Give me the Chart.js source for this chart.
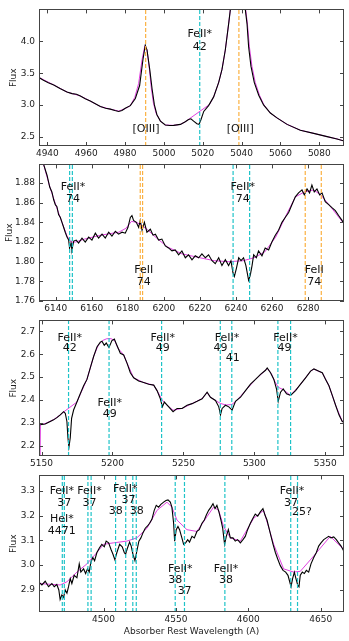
<!DOCTYPE html>
<html>
<head>
<meta charset="utf-8">
<script src="https://cdn.jsdelivr.net/npm/chart.js@4.4.1/dist/chart.umd.min.js"></script>
<style>
  body { margin: 0; background: #fff; }
  #wrap { position: relative; width: 349px; height: 641px; overflow: hidden; background: #fff; }
  canvas { position: absolute; left: 0; }
</style>
</head>
<body>
<div id="wrap">
  <canvas id="panel1" width="349" height="162" style="top:0px"></canvas>
  <canvas id="panel2" width="349" height="162" style="top:155px"></canvas>
  <canvas id="panel3" width="349" height="161" style="top:311px"></canvas>
  <canvas id="panel4" width="349" height="175" style="top:466px"></canvas>
</div>
<script>
// ---- panel 1 : [OIII] region ----
var lam1 = [4935.7, 4938.0, 4940.5, 4943.3, 4946.5, 4950.1, 4952.7, 4955.0, 4957.0, 4959.5,
  4962.1, 4964.7, 4967.3, 4970.0, 4972.4, 4974.8, 4976.7, 4978.4, 4980.1, 4982.7,
  4985.3, 4987.5, 4989.2, 4990.4, 4991.3, 4992.7, 4993.9, 4995.1, 4996.4, 4998.2,
  5000.7, 5003.0, 5005.0, 5008.5, 5011.0, 5012.7, 5013.9, 5015.3, 5017.0, 5018.1,
  5019.1, 5020.5, 5023.0, 5025.6, 5028.2, 5029.9, 5031.6, 5033.3, 5034.2, 5035.8,
  5038.4, 5040.6, 5041.9, 5042.8, 5043.6, 5044.8, 5046.5, 5048.8, 5051.3, 5054.8,
  5058.2, 5063.4, 5070.2, 5077.1, 5084.0, 5089.1, 5092.9];
var flux1 = [3.432, 3.39, 3.35, 3.316, 3.26, 3.204, 3.179, 3.17, 3.143, 3.10,
  3.062, 3.02, 2.976, 2.95, 2.936, 2.915, 2.900, 2.915, 2.951, 2.991,
  3.103, 3.306, 3.711, 3.939, 3.863, 3.559, 3.255, 3.002, 2.849, 2.748,
  2.687, 2.68, 2.682, 2.697, 2.738, 2.773, 2.784, 2.748, 2.708, 2.697,
  2.773, 2.900, 2.991, 3.128, 3.356, 3.559, 3.863, 4.269, 4.497, 5.2,
  6.0, 5.2, 4.497, 4.269, 3.914, 3.610, 3.356, 3.154, 3.002, 2.875,
  2.799, 2.697, 2.606, 2.556, 2.505, 2.469, 2.434];
var fitLam1 = [4935.7, 4943.3, 4950.1, 4957.0, 4962.1, 4967.3, 4972.4, 4976.7, 4980.1, 4982.7,
  4985.0, 4987.0, 4988.8, 4990.2, 4991.3, 4992.5, 4993.5, 4994.6, 4996.0, 4998.2,
  5000.7, 5005.0, 5008.5, 5011.0, 5012.7, 5023.5, 5025.6, 5028.2, 5029.9, 5031.6,
  5033.3, 5034.2, 5035.8, 5038.4, 5040.6, 5042.1, 5043.0, 5044.0, 5045.3, 5047.0,
  5049.2, 5051.5, 5054.8, 5058.2, 5063.4, 5070.2, 5077.1, 5084.0, 5089.1, 5092.9];
var fitFlux1 = [3.432, 3.316, 3.204, 3.143, 3.062, 2.976, 2.936, 2.905, 2.945, 2.990,
  3.120, 3.340, 3.720, 3.930, 3.870, 3.570, 3.270, 3.030, 2.870, 2.750,
  2.687, 2.682, 2.697, 2.738, 2.776, 3.010, 3.128, 3.356, 3.559, 3.863,
  4.269, 4.497, 5.200, 6.000, 5.200, 4.497, 4.269, 3.914, 3.610, 3.356,
  3.154, 3.002, 2.875, 2.799, 2.697, 2.606, 2.556, 2.505, 2.469, 2.434];
var cyan1 = [5018.44];
var orange1 = [4990.6, 5038.6];
var xRange1 = [4935.7, 5092.7];
var yRange1 = [2.358, 4.50];
var xTicks1 = [4940, 4960, 4980, 5000, 5020, 5040, 5060, 5080];
var yTicks1 = ["2.5", "3.0", "3.5", "4.0"];
var notes1 = [["FeII*", 5018.4, 4.117], ["42", 5018.4, 3.914],
  ["[OIII]", 4990.8, 2.621], ["[OIII]", 5039.3, 2.621]];

// ---- panel 2 : FeII 74 ----
var lam2 = [6131.5, 6133.3, 6135.2, 6136.7, 6137.9, 6138.9, 6139.8, 6140.7, 6141.6, 6142.6,
  6143.5, 6144.4, 6145.3, 6146.3, 6147.2, 6147.7, 6148.5, 6149.0, 6150.0, 6151.4,
  6152.7, 6154.6, 6156.4, 6158.3, 6160.1, 6162.0, 6163.8, 6165.7, 6167.5, 6169.4,
  6171.2, 6173.1, 6174.9, 6176.8, 6178.6, 6180.1, 6181.4, 6182.3, 6183.2, 6184.7,
  6186.0, 6186.9, 6187.9, 6189.2, 6190.6, 6192.5, 6194.0, 6195.3, 6197.1, 6198.9,
  6200.8, 6202.6, 6204.5, 6206.3, 6208.2, 6210.0, 6211.9, 6213.7, 6215.6, 6217.4,
  6219.3, 6221.1, 6223.0, 6224.8, 6226.7, 6228.5, 6230.4, 6232.2, 6234.1, 6235.9,
  6237.2, 6238.3, 6239.1, 6240.2, 6241.5, 6242.8, 6244.2, 6245.5, 6247.0, 6247.9,
  6248.9, 6249.8, 6251.3, 6252.5, 6254.4, 6256.2, 6258.1, 6259.9, 6261.8, 6263.6,
  6265.5, 6267.3, 6269.2, 6271.0, 6272.9, 6274.7, 6276.6, 6277.9, 6279.4, 6280.8,
  6282.1, 6283.4, 6284.9, 6286.4, 6287.7, 6289.5, 6291.4, 6293.2, 6295.1, 6296.9,
  6298.8, 6300.1];
var flux2 = [1.910, 1.899, 1.888, 1.876, 1.871, 1.863, 1.858, 1.856, 1.848, 1.845,
  1.840, 1.835, 1.830, 1.825, 1.822, 1.814, 1.819, 1.812, 1.821, 1.822,
  1.819, 1.824, 1.820, 1.825, 1.822, 1.829, 1.824, 1.828, 1.824, 1.830,
  1.826, 1.831, 1.828, 1.830, 1.829, 1.835, 1.845, 1.847, 1.842, 1.840,
  1.835, 1.842, 1.832, 1.840, 1.830, 1.833, 1.827, 1.828, 1.822, 1.823,
  1.816, 1.814, 1.811, 1.812, 1.807, 1.811, 1.804, 1.807, 1.802, 1.806,
  1.804, 1.808, 1.804, 1.807, 1.801, 1.798, 1.804, 1.796, 1.802, 1.796,
  1.801, 1.789, 1.785, 1.793, 1.804, 1.801, 1.804, 1.796, 1.781, 1.786,
  1.796, 1.807, 1.804, 1.811, 1.806, 1.814, 1.812, 1.820, 1.827, 1.832,
  1.840, 1.845, 1.850, 1.858, 1.866, 1.870, 1.873, 1.868, 1.874, 1.870,
  1.878, 1.871, 1.874, 1.868, 1.870, 1.861, 1.858, 1.855, 1.852, 1.847,
  1.842, 1.838];
var fitLam2 = [6131.5, 6133.3, 6136.6, 6140.0, 6143.5, 6146.3, 6148.5, 6151.0, 6156.0, 6165.0,
  6175.0, 6179.0, 6182.0, 6185.0, 6190.0, 6196.0, 6202.0, 6210.0, 6220.0, 6228.0,
  6236.0, 6244.0, 6250.0, 6256.0, 6262.0, 6268.0, 6273.0, 6278.0, 6283.0, 6287.0,
  6292.0, 6300.1];
var fitFlux2 = [1.910, 1.899, 1.877, 1.858, 1.840, 1.826, 1.820, 1.820, 1.823, 1.827,
  1.830, 1.834, 1.841, 1.840, 1.834, 1.824, 1.815, 1.808, 1.804, 1.801,
  1.800, 1.801, 1.804, 1.810, 1.825, 1.848, 1.866, 1.871, 1.873, 1.868,
  1.857, 1.838];
var cyan2 = [6147.74, 6149.25, 6238.39, 6247.56];
var orange2 = [6186.9, 6188.2, 6278.4, 6287.3];
var xRange2 = [6130.75, 6299.9];
var yRange2 = [1.760, 1.899];
var xTicks2 = [6140, 6160, 6180, 6200, 6220, 6240, 6260, 6280];
var yTicks2 = ["1.76", "1.78", "1.80", "1.82", "1.84", "1.86", "1.88"];
var notes2 = [["FeII*", 6149.6, 1.8761], ["74", 6149.6, 1.8636],
  ["FeII", 6188.8, 1.7917], ["74", 6188.8, 1.7796],
  ["FeII*", 6243.8, 1.8761], ["74", 6243.8, 1.8636],
  ["FeII", 6283.4, 1.7917], ["74", 6283.4, 1.7796]];

// ---- panel 3 : FeII 42 / 49 / 41 ----
var lam3 = [5149.06, 5152.59, 5156.12, 5158.47, 5160.82, 5163.18, 5165.53, 5166.71, 5167.88, 5168.59,
  5169.29, 5170.24, 5171.18, 5172.59, 5174.94, 5177.29, 5179.65, 5182.0, 5184.35, 5186.71,
  5189.06, 5191.41, 5192.6, 5194.2, 5195.6, 5197.5, 5199.6, 5201.3, 5203.1, 5205.53,
  5207.88, 5210.24, 5212.59, 5214.94, 5218.47, 5222.0, 5225.53, 5229.06, 5231.41, 5233.76,
  5235.18, 5236.59, 5239.65, 5242.71, 5245.53, 5249.06, 5252.59, 5256.12, 5259.65, 5263.18,
  5266.71, 5269.06, 5272.59, 5274.94, 5276.12, 5277.29, 5279.65, 5282.0, 5284.35, 5286.71,
  5290.24, 5293.76, 5297.29, 5300.82, 5304.35, 5307.88, 5309.06, 5311.41, 5313.76, 5315.65,
  5316.82, 5318.47, 5320.35, 5322.71, 5325.53, 5329.06, 5332.59, 5336.12, 5339.65, 5342.0,
  5345.53, 5347.88, 5350.24, 5352.59, 5354.94, 5357.29, 5359.65, 5362.0, 5363.6];
var flux3 = [2.292, 2.295, 2.306, 2.313, 2.323, 2.335, 2.349, 2.342, 2.306, 2.235,
  2.193, 2.235, 2.320, 2.356, 2.391, 2.427, 2.462, 2.490, 2.540, 2.590,
  2.632, 2.653, 2.657, 2.639, 2.649, 2.629, 2.660, 2.666, 2.639, 2.604,
  2.597, 2.561, 2.519, 2.497, 2.483, 2.476, 2.469, 2.465, 2.441, 2.405,
  2.370, 2.391, 2.370, 2.349, 2.363, 2.363, 2.377, 2.384, 2.394, 2.405,
  2.434, 2.412, 2.398, 2.370, 2.335, 2.363, 2.377, 2.370, 2.356, 2.394,
  2.412, 2.441, 2.469, 2.490, 2.512, 2.530, 2.540, 2.519, 2.490, 2.448,
  2.394, 2.434, 2.448, 2.427, 2.420, 2.441, 2.469, 2.497, 2.526, 2.536,
  2.526, 2.519, 2.490, 2.462, 2.420, 2.377, 2.335, 2.306, 2.302];
var fitLam3 = [5148.9, 5149.2, 5152.6, 5158.5, 5163.2, 5166.5, 5170.0, 5174.9, 5177.3, 5182.0,
  5186.7, 5190.0, 5193.0, 5196.0, 5199.0, 5201.5, 5204.0, 5207.9, 5210.2, 5214.9,
  5222.0, 5229.0, 5232.0, 5235.0, 5238.0, 5242.7, 5249.0, 5256.0, 5263.0, 5266.7,
  5269.0, 5272.6, 5276.0, 5280.0, 5284.0, 5287.0, 5293.8, 5300.8, 5307.9, 5309.1,
  5312.0, 5314.5, 5317.0, 5320.4, 5325.5, 5332.6, 5339.6, 5342.0, 5348.0, 5352.6,
  5357.3, 5362.0, 5363.6];
var fitFlux3 = [2.100, 2.292, 2.297, 2.314, 2.335, 2.352, 2.368, 2.391, 2.425, 2.490,
  2.590, 2.640, 2.660, 2.668, 2.668, 2.660, 2.625, 2.598, 2.562, 2.497,
  2.476, 2.465, 2.435, 2.400, 2.380, 2.355, 2.363, 2.384, 2.405, 2.432,
  2.412, 2.398, 2.385, 2.378, 2.380, 2.394, 2.441, 2.490, 2.530, 2.538,
  2.515, 2.480, 2.455, 2.445, 2.420, 2.469, 2.526, 2.535, 2.518, 2.462,
  2.377, 2.306, 2.300];
var cyan3 = [5169.03, 5197.58, 5234.63, 5276.0, 5284.1, 5316.6, 5325.55];
var orange3 = [];
var xRange3 = [5148.2, 5363.2];
var yRange3 = [2.155, 2.748];
var xTicks3 = [5150, 5200, 5250, 5300, 5350];
var yTicks3 = ["2.2", "2.3", "2.4", "2.5", "2.6", "2.7"];
var notes3 = [["FeII*", 5169.8, 2.672], ["42", 5169.8, 2.625],
  ["FeII*", 5198.0, 2.388], ["49", 5198.0, 2.337],
  ["FeII*", 5235.4, 2.672], ["49", 5235.4, 2.625],
  ["FeII*", 5280.8, 2.672], ["49", 5276.1, 2.625], ["41", 5284.8, 2.585],
  ["FeII*", 5322.0, 2.672], ["49", 5321.3, 2.625]];

// ---- panel 4 : FeII 37 / 38, HeI* ----
var lam4 = [4455.1, 4457.4, 4459.7, 4462.0, 4464.3, 4465.9, 4467.7, 4469.1, 4470.0, 4471.2,
  4472.4, 4473.5, 4474.7, 4475.8, 4477.0, 4478.1, 4479.7, 4481.6, 4483.2, 4484.3,
  4486.2, 4487.6, 4488.9, 4490.1, 4491.2, 4492.6, 4493.8, 4495.4, 4497.2, 4498.8,
  4500.5, 4501.8, 4503.5, 4505.1, 4506.5, 4507.8, 4509.2, 4511.1, 4512.9, 4514.3,
  4515.2, 4516.4, 4518.0, 4519.1, 4520.3, 4521.7, 4523.0, 4524.4, 4525.8, 4527.2,
  4528.8, 4530.4, 4531.8, 4533.4, 4535.0, 4536.4, 4538.0, 4539.6, 4541.5, 4543.1,
  4544.5, 4546.1, 4547.2, 4548.4, 4549.1, 4550.2, 4551.4, 4552.5, 4554.1, 4555.3,
  4556.7, 4558.1, 4559.4, 4561.1, 4562.7, 4564.5, 4566.1, 4568.0, 4569.6, 4571.0,
  4572.6, 4574.2, 4575.6, 4577.0, 4578.3, 4579.7, 4581.1, 4582.3, 4583.6, 4584.8,
  4586.2, 4587.6, 4589.4, 4591.0, 4592.6, 4594.5, 4596.3, 4597.9, 4599.5, 4601.4,
  4603.2, 4604.8, 4606.5, 4608.3, 4610.1, 4611.5, 4612.9, 4614.3, 4615.7, 4617.1,
  4618.7, 4620.3, 4622.1, 4624.0, 4625.8, 4627.4, 4628.6, 4629.5, 4630.6, 4631.8,
  4632.9, 4634.1, 4635.0, 4635.9, 4637.3, 4638.7, 4640.1, 4641.7, 4643.3, 4645.2,
  4647.0, 4648.6, 4650.2, 4652.1, 4653.9, 4655.5, 4657.1, 4659.0, 4660.8, 4662.4,
  4664.1, 4665.9];
var flux4 = [2.933, 2.920, 2.935, 2.913, 2.926, 2.913, 2.922, 2.900, 2.861, 2.880,
  2.870, 2.900, 2.887, 2.913, 2.946, 2.926, 2.959, 2.949, 3.005, 2.972,
  2.985, 2.966, 2.985, 2.972, 3.011, 3.031, 3.018, 3.051, 3.070, 3.084,
  3.074, 3.097, 3.090, 3.064, 3.044, 3.022, 3.051, 3.084, 3.074, 3.051,
  3.044, 3.067, 3.093, 3.077, 3.044, 3.018, 3.057, 3.097, 3.110, 3.130,
  3.149, 3.158, 3.169, 3.185, 3.221, 3.241, 3.234, 3.245, 3.254, 3.261,
  3.263, 3.254, 3.234, 3.169, 3.097, 3.143, 3.156, 3.143, 3.110, 3.084,
  3.090, 3.103, 3.093, 3.116, 3.110, 3.136, 3.143, 3.169, 3.182, 3.202,
  3.221, 3.234, 3.248, 3.228, 3.241, 3.215, 3.182, 3.149, 3.084, 3.116,
  3.143, 3.110, 3.110, 3.097, 3.103, 3.090, 3.103, 3.116, 3.143, 3.169,
  3.189, 3.206, 3.198, 3.215, 3.228, 3.202, 3.182, 3.149, 3.116, 3.084,
  3.051, 3.025, 2.998, 2.979, 2.972, 2.959, 2.933, 2.913, 2.946, 2.972,
  2.946, 2.920, 2.913, 2.959, 2.972, 2.966, 2.979, 2.972, 3.005, 3.031,
  3.051, 3.077, 3.090, 3.103, 3.110, 3.116, 3.110, 3.114, 3.103, 3.090,
  3.077, 3.057];
var fitLam4 = [4455.1, 4470.0, 4474.7, 4481.6, 4488.5, 4495.4, 4500.0, 4506.9, 4516.1, 4523.0,
  4530.0, 4536.9, 4543.8, 4547.2, 4550.7, 4557.6, 4564.5, 4571.4, 4576.0, 4579.5,
  4582.9, 4587.6, 4594.5, 4603.7, 4610.6, 4617.5, 4624.4, 4631.3, 4635.9, 4645.2,
  4656.6, 4665.9];
var fitFlux4 = [2.926, 2.920, 2.933, 2.972, 3.005, 3.051, 3.084, 3.090, 3.097, 3.110,
  3.149, 3.221, 3.254, 3.234, 3.182, 3.143, 3.136, 3.195, 3.234, 3.221,
  3.156, 3.110, 3.097, 3.189, 3.221, 3.084, 2.985, 2.972, 2.975, 3.037,
  3.116, 3.064];
var cyan4 = [4471.5, 4472.9, 4489.2, 4491.4, 4508.3, 4515.3, 4520.2, 4522.6,
  4549.5, 4555.9, 4583.8, 4629.3, 4634.0];
var orange4 = [];
var xRange4 = [4455.4, 4666.1];
var yRange4 = [2.811, 3.362];
var xTicks4 = [4500, 4550, 4600, 4650];
var yTicks4 = ["2.9", "3.0", "3.1", "3.2", "3.3"];
var notes4 = [["FeII*", 4471.2, 3.297], ["37", 4472.8, 3.250],
  ["HeI*", 4471.2, 3.185], ["4471", 4471.2, 3.136],
  ["FeII*", 4490.3, 3.297], ["37", 4490.3, 3.250],
  ["FeII*", 4515.0, 3.307], ["37", 4517.3, 3.263], ["38", 4508.5, 3.219], ["38", 4523.0, 3.219],
  ["FeII*", 4553.0, 2.985], ["38", 4549.5, 2.939], ["37", 4556.0, 2.896],
  ["FeII*", 4584.6, 2.985], ["38", 4584.6, 2.939],
  ["FeII*", 4630.2, 3.297], ["37", 4629.5, 3.250], ["25?", 4637.1, 3.212]];

var CYAN = "#1ec3c8";
var ORANGE = "#fbb040";
var MAGENTA = "#e040e0";

Chart.defaults.font.family = "'DejaVu Sans', sans-serif";
Chart.defaults.color = "#222";

function pairs(xs, ys) {
  return xs.map(function (x, i) {
    return { x: x, y: ys[i] };
  });
}

function vline(w, yRange, color) {
  return {
    data: [{ x: w, y: yRange[0] }, { x: w, y: yRange[1] }],
    borderColor: color,
    borderWidth: 1.2,
    borderDash: [4, 2],
    pointRadius: 0,
    order: 0
  };
}

function framePlugin(notes) {
  return {
    id: "frame",
    afterDatasetsDraw: function (chart) {
      var a = chart.chartArea;
      var ctx = chart.ctx;
      var xs = chart.scales.x;
      var ys = chart.scales.y;
      ctx.save();
      ctx.fillStyle = "#111";
      ctx.font = "11px 'DejaVu Sans'";
      ctx.textAlign = "center";
      ctx.textBaseline = "middle";
      notes.forEach(function (n) {
        ctx.fillText(n[0], xs.getPixelForValue(n[1]), ys.getPixelForValue(n[2]));
      });
      // frame + inward ticks on all sides (matplotlib look)
      ctx.strokeStyle = "#444";
      ctx.lineWidth = 1;
      ctx.beginPath();
      xs.ticks.forEach(function (t) {
        var px = Math.round(xs.getPixelForValue(t.value)) + 0.5;
        ctx.moveTo(px, a.bottom); ctx.lineTo(px, a.bottom - 4);
        ctx.moveTo(px, a.top); ctx.lineTo(px, a.top + 4);
      });
      ys.ticks.forEach(function (t) {
        var py = Math.round(ys.getPixelForValue(t.value)) + 0.5;
        ctx.moveTo(a.left, py); ctx.lineTo(a.left + 4, py);
        ctx.moveTo(a.right, py); ctx.lineTo(a.right - 4, py);
      });
      ctx.stroke();
      ctx.strokeRect(Math.round(a.left) + 0.5, Math.round(a.top) + 0.5,
        Math.round(a.right - a.left) - 1, Math.round(a.bottom - a.top) - 1);
      ctx.restore();
    }
  };
}

function makePanel(id, p) {
  var datasets = [];
  p.cyan.forEach(function (w) { datasets.push(vline(w, p.yRange, CYAN)); });
  p.orange.forEach(function (w) { datasets.push(vline(w, p.yRange, ORANGE)); });
  datasets.push({ data: pairs(p.lam, p.flux), borderColor: "#000", borderWidth: 1.1, pointRadius: 0, order: 1 });
  datasets.push({ data: pairs(p.fitLam, p.fitFlux), borderColor: MAGENTA, borderWidth: 1, pointRadius: 0, order: 2 });

  var ctx = document.getElementById(id).getContext("2d");
  return new Chart(ctx, {
    type: "line",
    data: { datasets: datasets },
    options: {
      responsive: false,
      animation: false,
      devicePixelRatio: 1,
      layout: { padding: { top: 5, right: 5, bottom: 0, left: 0 } },
      plugins: { legend: { display: false }, tooltip: { enabled: false } },
      elements: { line: { tension: 0 } },
      scales: {
        x: {
          type: "linear",
          min: p.xRange[0],
          max: p.xRange[1],
          grid: { display: false, drawTicks: false },
          border: { display: false },
          afterBuildTicks: function (s) {
            s.ticks = p.xTicks.map(function (v) { return { value: v }; });
          },
          afterFit: function (s) { s.height = p.xHeight; },
          ticks: {
            autoSkip: false, maxRotation: 0, padding: 2,
            font: { size: 9 },
            callback: function (v) { return String(v); }
          },
          title: {
            display: !!p.xTitle,
            text: p.xTitle || "",
            font: { size: 9 },
            padding: { top: 0, bottom: 4 }
          }
        },
        y: {
          type: "linear",
          min: p.yRange[0],
          max: p.yRange[1],
          grid: { display: false, drawTicks: false },
          border: { display: false },
          afterBuildTicks: function (s) {
            s.ticks = p.yTicks.map(function (t) { return { value: parseFloat(t) }; });
          },
          afterFit: function (s) { s.width = 39; },
          ticks: {
            autoSkip: false, padding: 4,
            font: { size: 9 },
            callback: function (v) {
              return p.yTicks.find(function (t) { return parseFloat(t) === v; });
            }
          },
          title: {
            display: true,
            text: "Flux",
            font: { size: 9 },
            padding: { top: p.titlePad, bottom: 0 }
          }
        }
      }
    },
    plugins: [framePlugin(p.notes)]
  });
}

makePanel("panel1", { lam: lam1, flux: flux1, fitLam: fitLam1, fitFlux: fitFlux1,
  cyan: cyan1, orange: orange1, xRange: xRange1, yRange: yRange1,
  xTicks: xTicks1, yTicks: yTicks1, notes: notes1, xHeight: 16, titlePad: 8 });
makePanel("panel2", { lam: lam2, flux: flux2, fitLam: fitLam2, fitFlux: fitFlux2,
  cyan: cyan2, orange: orange2, xRange: xRange2, yRange: yRange2,
  xTicks: xTicks2, yTicks: yTicks2, notes: notes2, xHeight: 16, titlePad: 4.5 });
makePanel("panel3", { lam: lam3, flux: flux3, fitLam: fitLam3, fitFlux: fitFlux3,
  cyan: cyan3, orange: orange3, xRange: xRange3, yRange: yRange3,
  xTicks: xTicks3, yTicks: yTicks3, notes: notes3, xHeight: 16, titlePad: 8.5 });
makePanel("panel4", { lam: lam4, flux: flux4, fitLam: fitLam4, fitFlux: fitFlux4,
  cyan: cyan4, orange: orange4, xRange: xRange4, yRange: yRange4,
  xTicks: xTicks4, yTicks: yTicks4, notes: notes4, xHeight: 29, titlePad: 8.5,
  xTitle: "Absorber Rest Wavelength (A)" });
</script>
</body>
</html>
